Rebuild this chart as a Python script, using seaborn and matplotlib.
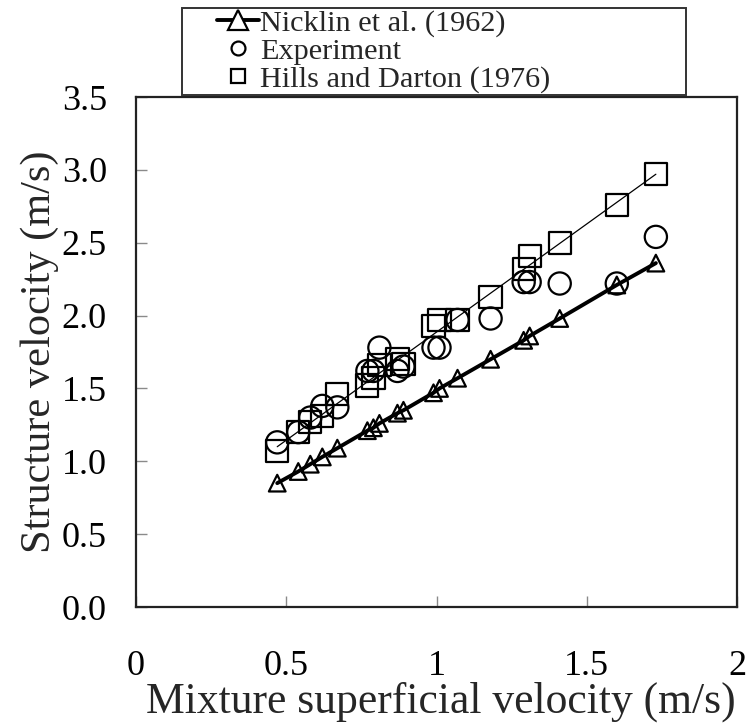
import matplotlib
matplotlib.use("Agg")
import matplotlib.pyplot as plt
from matplotlib.lines import Line2D
from matplotlib.patches import Rectangle
import seaborn as sns
import pandas as pd

# ---- data ----
mixture_velocity = [0.47, 0.54, 0.58, 0.62, 0.67, 0.77, 0.79, 0.81, 0.87, 0.89,
                    0.99, 1.01, 1.07, 1.18, 1.29, 1.31, 1.41, 1.60, 1.73]
nicklin_velocity = [0.85, 0.93, 0.98, 1.03, 1.09, 1.21, 1.23, 1.26, 1.33, 1.35,
                    1.47, 1.50, 1.57, 1.70, 1.83, 1.86, 1.98, 2.21, 2.36]
experiment_velocity = [1.13, 1.20, 1.30, 1.38, 1.37, 1.62, 1.62, 1.78, 1.62, 1.65,
                       1.78, 1.78, 1.97, 1.98, 2.23, 2.23, 2.22, 2.22, 2.54]
hills_velocity = [1.07, 1.20, 1.27, 1.31, 1.46, 1.52, 1.57, 1.66, 1.70, 1.67,
                  1.93, 1.97, 1.97, 2.13, 2.32, 2.41, 2.50, 2.76, 2.97]
hills_trend_x = [0.47, 1.73]
hills_trend_y = [1.10, 2.97]

series_labels = ["Nicklin et al. (1962)", "Experiment", "Hills and Darton (1976)"]
x_ticks = [0, 0.5, 1, 1.5, 2]
x_tick_labels = ["0", "0.5", "1", "1.5", "2"]
y_ticks = [0.0, 0.5, 1.0, 1.5, 2.0, 2.5, 3.0, 3.5]
y_tick_labels = ["0.0", "0.5", "1.0", "1.5", "2.0", "2.5", "3.0", "3.5"]

df = pd.DataFrame({"x": mixture_velocity, "nicklin": nicklin_velocity,
                   "exp": experiment_velocity, "hills": hills_velocity})
trend = pd.DataFrame({"x": hills_trend_x, "y": hills_trend_y})

sns.set_style("white")
plt.rcParams["font.family"] = ["Liberation Serif", "DejaVu Serif"]

W, H = 749, 724
fig = plt.figure(figsize=(W / 100, H / 100), dpi=100)
ax = fig.add_axes([136 / W, 1 - 607 / H, (737 - 136) / W, (607 - 97) / H])

# lines
sns.lineplot(data=trend, x="x", y="y", ax=ax, color="black", linewidth=0.9,
             zorder=2, legend=False)
sns.lineplot(data=df, x="x", y="nicklin", ax=ax, color="black", linewidth=2.8,
             zorder=3, legend=False)
# markers
sns.scatterplot(data=df, x="x", y="hills", ax=ax, marker="s", s=16 ** 2,
                facecolor="none", edgecolor="black", linewidth=1.6, zorder=4,
                legend=False)
sns.scatterplot(data=df, x="x", y="exp", ax=ax, marker="o", s=16 ** 2,
                facecolor="none", edgecolor="black", linewidth=1.6, zorder=4,
                legend=False)
sns.scatterplot(data=df, x="x", y="nicklin", ax=ax, marker="^", s=12 ** 2,
                facecolor="none", edgecolor="black", linewidth=1.6, zorder=5,
                legend=False)

ax.set_xlim(0, 2)
ax.set_ylim(0, 3.5)
ax.set_xticks(x_ticks)
ax.set_xticklabels(x_tick_labels)
ax.set_yticks(y_ticks)
ax.set_yticklabels(y_tick_labels)
ax.tick_params(axis="both", direction="in", length=8, width=1, color="#8a8a8a",
               labelsize=26, labelcolor="black", bottom=True, left=True,
               top=False, right=False)
ax.tick_params(axis="x", pad=31)
ax.tick_params(axis="y", pad=21)
for sp in ax.spines.values():
    sp.set_visible(True)
    sp.set_color("#222222")
    sp.set_linewidth(1.6)
ax.grid(False)

ax.set_xlabel("Mixture superficial velocity (m/s)", fontsize=31.4, labelpad=-1)
ax.xaxis.label.set_x(0.507)
ax.set_ylabel("Structure velocity (m/s)", fontsize=30.5, labelpad=2)

# legend frame and entries
fig.patches.append(Rectangle((182 / W, 1 - 95 / H), (686 - 182) / W, (95 - 8) / H,
                             transform=fig.transFigure, facecolor="white",
                             edgecolor="#333333", linewidth=1.4, zorder=1))
handles = [
    Line2D([], [], color="black", linewidth=2.8, marker="^", markersize=14,
           markerfacecolor="white", markeredgecolor="black", markeredgewidth=1.6),
    Line2D([], [], linestyle="none", marker="o", markersize=10,
           markerfacecolor="none", markeredgecolor="black", markeredgewidth=1.6),
    Line2D([], [], linestyle="none", marker="s", markersize=10,
           markerfacecolor="none", markeredgecolor="black", markeredgewidth=1.6),
]
leg = fig.legend(handles, series_labels, loc="upper left",
                 bbox_to_anchor=(217 / W, 1 - 9 / H), frameon=False,
                 fontsize=21.8, handlelength=1.38, handletextpad=0.05,
                 labelspacing=0.03, borderpad=0, borderaxespad=0)

fig.savefig("out.png", dpi=100)
